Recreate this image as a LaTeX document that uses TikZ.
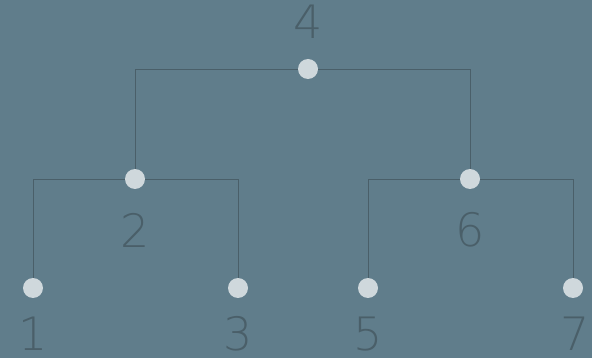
\documentclass[tikz,border=0pt]{standalone}
\usepackage{fontspec}
\newfontfamily\numfont{DejaVu Sans ExtraLight}
\definecolor{bg}{HTML}{607D8B}
\definecolor{dot}{HTML}{CFD8DC}
\definecolor{ink}{HTML}{4A5F69}
\begin{document}
\begin{tikzpicture}[x=1pt,y=-1pt,
  dotnode/.style={circle,fill=dot,inner sep=0pt,minimum size=20pt},
  numlabel/.style={text=ink,font=\numfont\fontsize{46}{46}\selectfont,inner sep=0pt,anchor=center},
  edge/.style={draw=ink,line width=0.9pt}]
\fill[bg] (0,0) rectangle (592,358);
\useasboundingbox (0,0) rectangle (592,358);
% nodes
\node[dotnode] (n4) at (308,69) {};
\node[dotnode] (n2) at (135,179) {};
\node[dotnode] (n6) at (470,179) {};
\node[dotnode] (n1) at (33,288) {};
\node[dotnode] (n3) at (238,288) {};
\node[dotnode] (n5) at (368,288) {};
\node[dotnode] (n7) at (573,288) {};
% edges
\begin{scope}[on background layer/.style={}]
\end{scope}
\draw[edge] (n4.west) -| (n2.north);
\draw[edge] (n4.east) -| (n6.north);
\draw[edge] (n2.west) -| (n1.north);
\draw[edge] (n2.east) -| (n3.north);
\draw[edge] (n6.west) -| (n5.north);
\draw[edge] (n6.east) -| (n7.north);
% labels
\node[numlabel] (l4) at (308,22) {4};
\node[numlabel] (l2) at (135,230) {2};
\node[numlabel] (l6) at (470,230) {6};
\node[numlabel] (l1) at (33,334) {1};
\node[numlabel] (l3) at (238,334) {3};
\node[numlabel] (l5) at (368,334) {5};
\node[numlabel] (l7) at (575,334) {7};
\end{tikzpicture}
\end{document}
